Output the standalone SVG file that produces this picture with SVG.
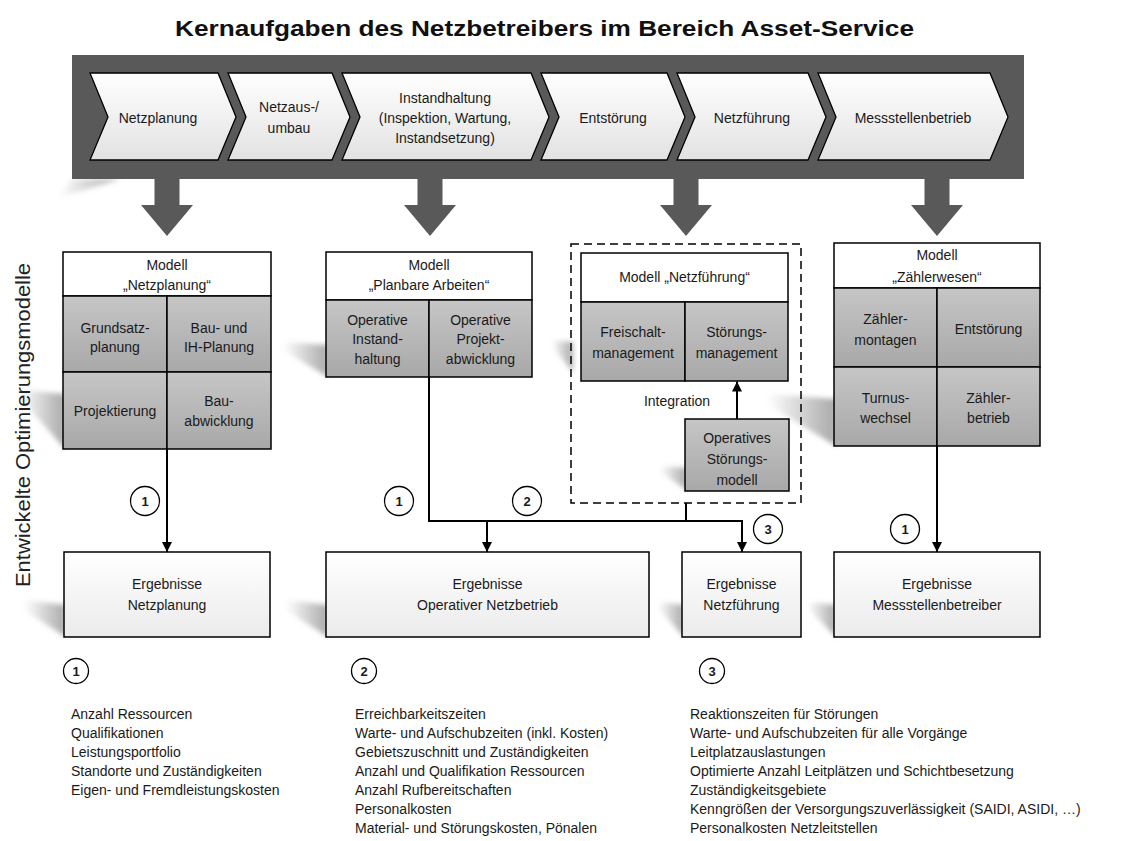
<svg xmlns="http://www.w3.org/2000/svg" width="1124" height="841" viewBox="0 0 1124 841">
  <defs>
    <style>
      .t { font-family: "Liberation Sans", Arial, sans-serif; font-size: 14px; fill: #1a1a1a; text-anchor: middle; }
      .l { font-family: "Liberation Sans", Arial, sans-serif; font-size: 14px; fill: #1a1a1a; }
      .n { font-family: "Liberation Sans", Arial, sans-serif; font-size: 13px; font-weight: bold; fill: #1a1a1a; text-anchor: middle; }
      .chev { fill: url(#gChev); stroke: #000; stroke-width: 1.3; stroke-linejoin: miter; }
      .hdr { fill: #ffffff; stroke: #000; stroke-width: 1.5; }
      .cell { fill: url(#gCell); stroke: #000; stroke-width: 1.5; }
      .res { fill: url(#gRes); stroke: #000; stroke-width: 1.5; }
      .big { fill: #595959; }
      .wire { fill: none; stroke: #000; stroke-width: 2; }
      .circ { fill: #fff; stroke: #000; stroke-width: 1.3; }
      .shade { fill: url(#gShade); filter: url(#soft); }
    </style>
    <linearGradient id="gChev" x1="0" y1="0" x2="0" y2="1">
      <stop offset="0" stop-color="#ffffff"/>
      <stop offset="1" stop-color="#e2e2e2"/>
    </linearGradient>
    <linearGradient id="gCell" x1="0" y1="0" x2="0" y2="1">
      <stop offset="0" stop-color="#c6c6c6"/>
      <stop offset="1" stop-color="#a8a8a8"/>
    </linearGradient>
    <linearGradient id="gRes" x1="0" y1="0" x2="0" y2="1">
      <stop offset="0" stop-color="#ffffff"/>
      <stop offset="1" stop-color="#ebebeb"/>
    </linearGradient>
    <linearGradient id="gShade" x1="1" y1="0" x2="0" y2="0">
      <stop offset="0" stop-color="#8c8c8c" stop-opacity="0.75"/>
      <stop offset="1" stop-color="#8c8c8c" stop-opacity="0"/>
    </linearGradient>
    <filter id="soft" x="-30%" y="-30%" width="160%" height="160%">
      <feGaussianBlur stdDeviation="2.5"/>
    </filter>
    <marker id="arr" markerUnits="userSpaceOnUse" markerWidth="10" markerHeight="10" refX="10" refY="5" orient="auto">
      <path d="M0,0 L10,5 L0,10 z" fill="#000"/>
    </marker>
  </defs>

  <rect width="1124" height="841" fill="#ffffff"/>

  <!-- soft perspective shadows behind the shapes -->
  <g id="shadows">
    <polygon class="shade" points="120,179 72,179 58,198"/>
    <polygon class="shade" points="65,449 65,394 20,390 20,398"/>
    <polygon class="shade" points="328,377 328,345 283,342 283,350"/>
    <polygon class="shade" points="573,372 573,342 552,340 552,346"/>
    <polygon class="shade" points="687,490 687,468 660,466 660,472"/>
    <polygon class="shade" points="836,446 836,399 767,394 767,404"/>
    <polygon class="shade" points="66,637 66,605 24,600 24,610"/>
    <polygon class="shade" points="328,637 328,605 286,600 286,610"/>
    <polygon class="shade" points="684,637 684,605 658,602 658,608"/>
    <polygon class="shade" points="836,637 836,605 808,602 808,608"/>
  </g>

  <!-- heading -->
  <text id="title" x="544.5" y="36" font-family="'Liberation Sans', Arial, sans-serif" font-size="22" font-weight="bold" fill="#111" text-anchor="middle" textLength="739" lengthAdjust="spacingAndGlyphs">Kernaufgaben des Netzbetreibers im Bereich Asset-Service</text>

  <!-- side label -->
  <text id="side-label" transform="translate(30,425) rotate(-90)" font-family="'Liberation Sans', Arial, sans-serif" font-size="21" fill="#222" text-anchor="middle" textLength="324" lengthAdjust="spacingAndGlyphs">Entwickelte Optimierungsmodelle</text>

  <!-- process band -->
  <g id="process-band">
    <rect x="72" y="55" width="952" height="124" fill="#595959"/>
    <path class="big" d="M154.5,179 h25 v26 h13.5 L167,236 L141,205 h13.5 z"/>
    <path class="big" d="M417.5,179 h25 v26 h13.5 L430,236 L404,205 h13.5 z"/>
    <path class="big" d="M673.5,179 h25 v26 h13.5 L686,236 L660,205 h13.5 z"/>
    <path class="big" d="M924.5,179 h25 v26 h13.5 L937,236 L911,205 h13.5 z"/>
  </g>

  <g id="step-netzplanung">
    <polygon class="chev" points="90,73 218,73 236,117 218,160 90,160 108,117"/>
    <text class="t" x="158" y="123">Netzplanung</text>
  </g>
  <g id="step-netzausbau">
    <polygon class="chev" points="228,73 332,73 350,117 332,160 228,160 246,117"/>
    <text class="t" x="289" y="112">Netzaus-/</text>
    <text class="t" x="289" y="133">umbau</text>
  </g>
  <g id="step-instandhaltung">
    <polygon class="chev" points="342,73 531,73 549,117 531,160 342,160 360,117"/>
    <text class="t" x="445" y="103">Instandhaltung</text>
    <text class="t" x="445" y="123">(Inspektion, Wartung,</text>
    <text class="t" x="445" y="143">Instandsetzung)</text>
  </g>
  <g id="step-entstoerung">
    <polygon class="chev" points="541,73 667,73 685,117 667,160 541,160 559,117"/>
    <text class="t" x="613" y="123">Entstörung</text>
  </g>
  <g id="step-netzfuehrung">
    <polygon class="chev" points="677,73 808,73 826,117 808,160 677,160 695,117"/>
    <text class="t" x="752" y="123">Netzführung</text>
  </g>
  <g id="step-messstellen">
    <polygon class="chev" points="818,73 990,73 1008,117 990,160 818,160 836,117"/>
    <text class="t" x="913" y="123">Messstellenbetrieb</text>
  </g>

  <!-- model: Netzplanung -->
  <g id="model-netzplanung">
    <rect class="hdr" x="63" y="252" width="208" height="44"/>
    <rect class="cell" x="63" y="296" width="104" height="76"/>
    <rect class="cell" x="167" y="296" width="104" height="76"/>
    <rect class="cell" x="63" y="372" width="104" height="77"/>
    <rect class="cell" x="167" y="372" width="104" height="77"/>
    <text class="t" x="167" y="270">Modell</text>
    <text class="t" x="167" y="290">„Netzplanung“</text>
    <text class="t" x="115" y="333">Grundsatz-</text>
    <text class="t" x="115" y="352">planung</text>
    <text class="t" x="219" y="333">Bau- und</text>
    <text class="t" x="219" y="352">IH-Planung</text>
    <text class="t" x="115" y="416">Projektierung</text>
    <text class="t" x="219" y="406">Bau-</text>
    <text class="t" x="219" y="426">abwicklung</text>
  </g>

  <!-- model: Planbare Arbeiten -->
  <g id="model-planbar">
    <rect class="hdr" x="326" y="252" width="206" height="48"/>
    <rect class="cell" x="326" y="300" width="103" height="77"/>
    <rect class="cell" x="429" y="300" width="103" height="77"/>
    <text class="t" x="429" y="270">Modell</text>
    <text class="t" x="429" y="290">„Planbare Arbeiten“</text>
    <text class="t" x="377.5" y="325">Operative</text>
    <text class="t" x="377.5" y="344">Instand-</text>
    <text class="t" x="377.5" y="364">haltung</text>
    <text class="t" x="480.5" y="325">Operative</text>
    <text class="t" x="480.5" y="344">Projekt-</text>
    <text class="t" x="480.5" y="364">abwicklung</text>
  </g>

  <!-- model: Netzführung with integrated fault model -->
  <g id="model-netzfuehrung">
    <rect x="571" y="244" width="230" height="259" fill="none" stroke="#000" stroke-width="1.5" stroke-dasharray="8,5"/>
    <rect class="hdr" x="581" y="253" width="207" height="49"/>
    <rect class="cell" x="581" y="302" width="104" height="79"/>
    <rect class="cell" x="685" y="302" width="103" height="79"/>
    <text class="t" x="684.5" y="282">Modell „Netzführung“</text>
    <text class="t" x="633" y="337">Freischalt-</text>
    <text class="t" x="633" y="358">management</text>
    <text class="t" x="736.5" y="337">Störungs-</text>
    <text class="t" x="736.5" y="358">management</text>
    <text class="t" x="677" y="406">Integration</text>
  </g>
  <g id="model-stoerung">
    <rect class="cell" x="685" y="419" width="104" height="72"/>
    <text class="t" x="737" y="443">Operatives</text>
    <text class="t" x="737" y="464">Störungs-</text>
    <text class="t" x="737" y="485">modell</text>
  </g>

  <!-- model: Zählerwesen -->
  <g id="model-zaehler">
    <rect class="hdr" x="834" y="243" width="206" height="45"/>
    <rect class="cell" x="834" y="288" width="103" height="79"/>
    <rect class="cell" x="937" y="288" width="103" height="79"/>
    <rect class="cell" x="834" y="367" width="103" height="79"/>
    <rect class="cell" x="937" y="367" width="103" height="79"/>
    <text class="t" x="937" y="260">Modell</text>
    <text class="t" x="937" y="282">„Zählerwesen“</text>
    <text class="t" x="885.5" y="324">Zähler-</text>
    <text class="t" x="885.5" y="345">montagen</text>
    <text class="t" x="988.5" y="334">Entstörung</text>
    <text class="t" x="885.5" y="403">Turnus-</text>
    <text class="t" x="885.5" y="423">wechsel</text>
    <text class="t" x="988.5" y="403">Zähler-</text>
    <text class="t" x="988.5" y="423">betrieb</text>
  </g>

  <!-- result boxes -->
  <g id="result-netzplanung">
    <rect class="res" x="64" y="552" width="206" height="85"/>
    <text class="t" x="167" y="589">Ergebnisse</text>
    <text class="t" x="167" y="610">Netzplanung</text>
  </g>
  <g id="result-betrieb">
    <rect class="res" x="326" y="552" width="323" height="85"/>
    <text class="t" x="487.5" y="589">Ergebnisse</text>
    <text class="t" x="487.5" y="610">Operativer Netzbetrieb</text>
  </g>
  <g id="result-netzfuehrung">
    <rect class="res" x="682" y="552" width="119" height="85"/>
    <text class="t" x="741.5" y="589">Ergebnisse</text>
    <text class="t" x="741.5" y="610">Netzführung</text>
  </g>
  <g id="result-messstellen">
    <rect class="res" x="834" y="552" width="206" height="85"/>
    <text class="t" x="937" y="589">Ergebnisse</text>
    <text class="t" x="937" y="610">Messstellenbetreiber</text>
  </g>

  <!-- connectors -->
  <g id="connectors">
    <path class="wire" d="M167,449 V552" marker-end="url(#arr)"/>
    <path class="wire" d="M429,377 V521 H742 V552" marker-end="url(#arr)"/>
    <path class="wire" d="M487,521 V552" marker-end="url(#arr)"/>
    <path class="wire" d="M686,503 V521"/>
    <path class="wire" d="M937,446 V552" marker-end="url(#arr)"/>
    <path class="wire" d="M737,419 V381.5" marker-end="url(#arr)"/>
  </g>

  <!-- numbered markers on the connectors -->
  <g id="markers">
    <circle class="circ" cx="145" cy="501" r="14.5"/>
    <text class="n" x="145" y="505.5">1</text>
    <circle class="circ" cx="399" cy="501" r="14.5"/>
    <text class="n" x="399" y="505.5">1</text>
    <circle class="circ" cx="527" cy="501" r="14.5"/>
    <text class="n" x="527" y="505.5">2</text>
    <circle class="circ" cx="768" cy="529" r="14.5"/>
    <text class="n" x="768" y="533.5">3</text>
    <circle class="circ" cx="905" cy="529" r="14.5"/>
    <text class="n" x="905" y="533.5">1</text>
  </g>

  <!-- result lists -->
  <g id="list-1">
    <circle class="circ" cx="76" cy="671" r="12.5"/>
    <text class="n" x="76" y="675.5">1</text>
    <text class="l" x="71" y="719">Anzahl Ressourcen</text>
    <text class="l" x="71" y="738">Qualifikationen</text>
    <text class="l" x="71" y="757">Leistungsportfolio</text>
    <text class="l" x="71" y="776">Standorte und Zuständigkeiten</text>
    <text class="l" x="71" y="795">Eigen- und Fremdleistungskosten</text>
  </g>
  <g id="list-2">
    <circle class="circ" cx="364" cy="671" r="12.5"/>
    <text class="n" x="364" y="675.5">2</text>
    <text class="l" x="355" y="719">Erreichbarkeitszeiten</text>
    <text class="l" x="355" y="738">Warte- und Aufschubzeiten (inkl. Kosten)</text>
    <text class="l" x="355" y="757">Gebietszuschnitt und Zuständigkeiten</text>
    <text class="l" x="355" y="776">Anzahl und Qualifikation Ressourcen</text>
    <text class="l" x="355" y="795">Anzahl Rufbereitschaften</text>
    <text class="l" x="355" y="814">Personalkosten</text>
    <text class="l" x="355" y="833">Material- und Störungskosten, Pönalen</text>
  </g>
  <g id="list-3">
    <circle class="circ" cx="712" cy="671" r="12.5"/>
    <text class="n" x="712" y="675.5">3</text>
    <text class="l" x="690" y="719">Reaktionszeiten für Störungen</text>
    <text class="l" x="690" y="738">Warte- und Aufschubzeiten für alle Vorgänge</text>
    <text class="l" x="690" y="757">Leitplatzauslastungen</text>
    <text class="l" x="690" y="776">Optimierte Anzahl Leitplätzen und Schichtbesetzung</text>
    <text class="l" x="690" y="795">Zuständigkeitsgebiete</text>
    <text class="l" x="690" y="814">Kenngrößen der Versorgungszuverlässigkeit (SAIDI, ASIDI, …)</text>
    <text class="l" x="690" y="833">Personalkosten Netzleitstellen</text>
  </g>
</svg>
